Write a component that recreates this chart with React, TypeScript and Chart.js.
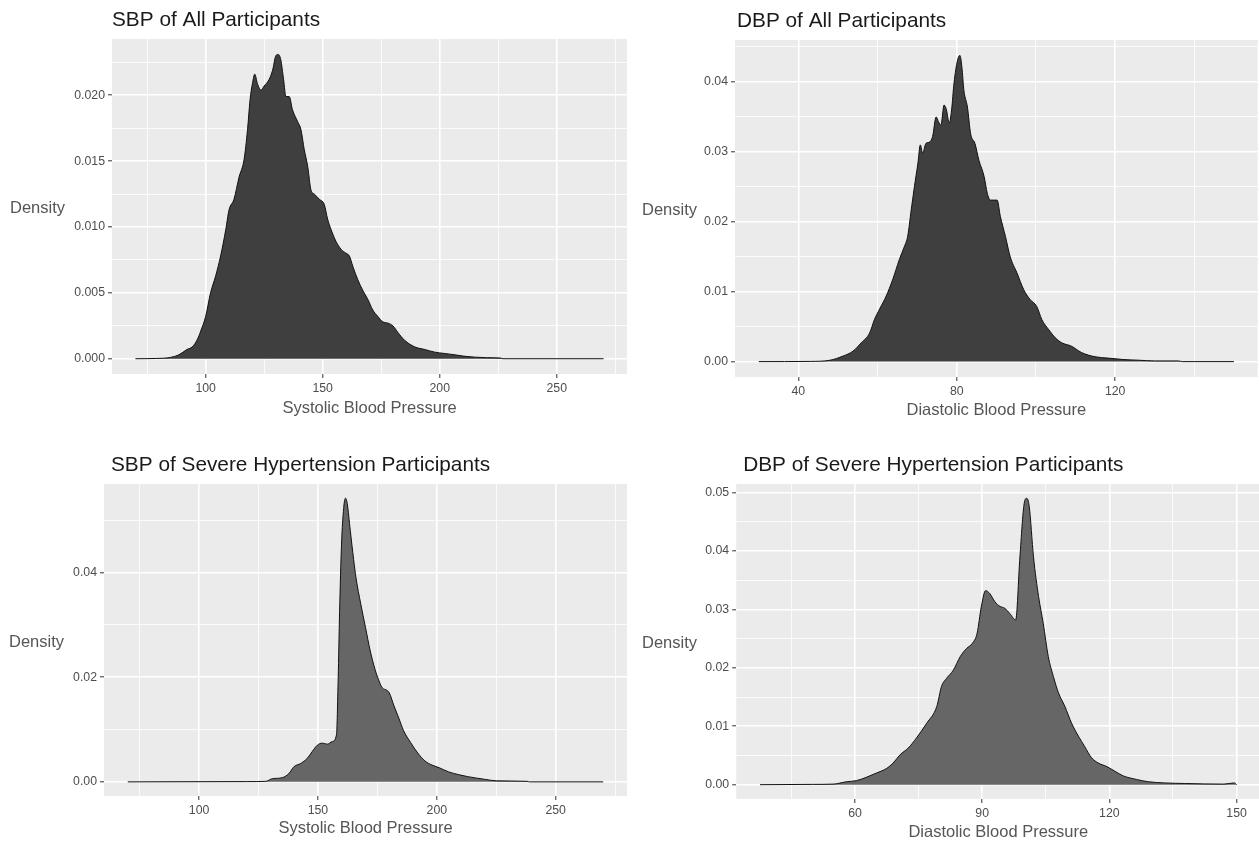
import React, { useEffect, useRef } from "react";
import { Chart, registerables } from "chart.js";

Chart.register(...registerables);

// ---------- Data ----------
// SBP of All Participants
const sbpAllX = [70, 79, 85, 88.6, 92, 94.3, 96.4, 97.9, 100, 102.1, 104.3, 106.4, 108.6, 110, 112.1, 114.3, 116.4, 117.9, 119, 120, 121, 122.1, 123.6, 125, 127.1, 128.6, 130, 131, 132.1, 133.3, 134.3, 135.7, 137.1, 139.3, 140.7, 142.1, 143.6, 145, 146.4, 148.6, 150.7, 152.1, 153.6, 155.7, 157.9, 160, 161.4, 162.9, 165, 167.1, 169.3, 171.4, 173.6, 175.7, 177.9, 180, 182.1, 185, 189.3, 193.6, 197.9, 202, 206.4, 210, 215, 220, 226, 227, 270];
const sbpAllY = [0, 0.00002, 0.0001, 0.0003, 0.0007, 0.0009, 0.00144, 0.0021, 0.0032, 0.005, 0.0063, 0.0078, 0.0098, 0.0113, 0.0121, 0.0138, 0.0151, 0.0174, 0.0197, 0.0209, 0.0216, 0.0209, 0.0204, 0.0207, 0.0212, 0.0219, 0.023, 0.0231, 0.0227, 0.0212, 0.0199, 0.0199, 0.0189, 0.018, 0.0174, 0.0159, 0.0146, 0.0128, 0.0125, 0.0121, 0.0117, 0.0106, 0.0098, 0.0089, 0.0083, 0.008, 0.0078, 0.007, 0.006, 0.0052, 0.0045, 0.0037, 0.0032, 0.0028, 0.0027, 0.0025, 0.002, 0.0014, 0.0009, 0.0007, 0.0005, 0.0004, 0.0003, 0.0002, 0.00012, 0.00008, 0.00005, 0, 0];

// DBP of All Participants
const dbpAllX = [30, 43, 48, 51.3, 53.8, 55.9, 58, 59.2, 60.5, 62.2, 63.8, 65.5, 66.8, 67.6, 68.5, 69.3, 70.2, 70.8, 71.4, 72.2, 73.1, 73.9, 74.8, 75.4, 76, 76.8, 77.4, 78.1, 78.7, 79.3, 80.2, 80.8, 81.3, 81.8, 82.7, 83.5, 84.6, 85.6, 86.9, 87.7, 88.5, 90.2, 91, 92.3, 93.5, 95.2, 96.9, 98.5, 100.2, 101.5, 103.2, 104.9, 106.5, 109, 111.5, 114.9, 118.2, 122, 126, 130, 136, 137, 150];
const dbpAllY = [0, 0.00003, 0.0002, 0.0008, 0.0015, 0.0027, 0.0041, 0.006, 0.0075, 0.0094, 0.0117, 0.0146, 0.0165, 0.0179, 0.0217, 0.025, 0.0284, 0.031, 0.0298, 0.0312, 0.0314, 0.0322, 0.035, 0.0343, 0.0338, 0.0367, 0.036, 0.0341, 0.036, 0.0398, 0.0431, 0.0438, 0.0421, 0.0388, 0.0364, 0.0326, 0.0312, 0.0288, 0.0265, 0.0241, 0.0231, 0.0231, 0.0208, 0.0179, 0.015, 0.0127, 0.0103, 0.0089, 0.0079, 0.006, 0.0046, 0.0034, 0.0027, 0.0022, 0.0013, 0.0007, 0.0005, 0.0003, 0.0002, 0.0001, 0.0001, 0, 0];

// SBP of Severe Hypertension Participants
const sbpSevX = [70, 120, 128, 130.8, 135, 137.8, 139.9, 142.7, 145.5, 147.6, 149.7, 151.8, 153.9, 156, 157.8, 158.5, 159.1, 159.9, 160.8, 161.6, 162.3, 163.6, 165, 166, 168, 170, 172, 174, 175.5, 177, 179, 180, 182, 184, 186, 189, 192, 195, 198, 201, 205, 209, 213, 220, 225, 238, 239, 270];
const sbpSevY = [0, 0.00005, 0.0001, 0.0006, 0.0008, 0.0016, 0.0029, 0.0035, 0.0045, 0.0058, 0.007, 0.0074, 0.0072, 0.0077, 0.009, 0.0196, 0.0324, 0.0452, 0.0522, 0.0542, 0.0532, 0.048, 0.0425, 0.039, 0.034, 0.0295, 0.025, 0.0215, 0.0195, 0.018, 0.0175, 0.017, 0.0145, 0.0122, 0.0098, 0.0075, 0.0055, 0.004, 0.0032, 0.0027, 0.0019, 0.0014, 0.001, 0.0005, 0.0002, 0.0001, 0, 0];

// DBP of Severe Hypertension Participants
const dbpSevX = [37.6, 50, 54.9, 58, 60.4, 62.8, 65.1, 67.5, 69, 70.6, 72.6, 74.5, 76.9, 79.3, 80.4, 81.6, 83.2, 84.8, 86.3, 87.7, 88.8, 89.8, 90.8, 91.8, 93, 94.2, 95.3, 96.5, 97.9, 98.9, 99.9, 100.5, 101.1, 102.1, 103.3, 104.4, 105.6, 106.8, 108, 109.5, 111.1, 112.7, 114.2, 115.8, 117.4, 119.4, 121.3, 123.3, 126.4, 129.2, 133, 138, 147, 149.5, 150];
const dbpSevY = [0, 0.00005, 0.0001, 0.0005, 0.0007, 0.0013, 0.002, 0.0028, 0.0037, 0.0051, 0.0063, 0.008, 0.0105, 0.0134, 0.0168, 0.0182, 0.0196, 0.0219, 0.0233, 0.0242, 0.0259, 0.0305, 0.0332, 0.0327, 0.0313, 0.0305, 0.0302, 0.0293, 0.0282, 0.039, 0.0481, 0.049, 0.0476, 0.039, 0.0322, 0.0276, 0.0219, 0.0185, 0.0157, 0.0134, 0.0105, 0.0083, 0.0065, 0.0046, 0.0037, 0.0031, 0.0023, 0.0015, 0.0009, 0.0005, 0.0003, 0.0002, 0.0001, 0.0003, 0];

// Tick values
const sbpXMajor = [100, 150, 200, 250];
const sbpXMinor = [75, 125, 175, 225, 275];
const dbpAllXMajor = [40, 80, 120];
const dbpAllXMinor = [60, 100, 140];
const dbpSevXMajor = [60, 90, 120, 150];
const dbpSevXMinor = [45, 75, 105, 135];
const sbpAllYMajor = [0, 0.005, 0.01, 0.015, 0.02];
const sbpAllYMinor = [0.0025, 0.0075, 0.0125, 0.0175, 0.0225];
const dbpAllYMajor = [0, 0.01, 0.02, 0.03, 0.04];
const dbpAllYMinor = [0.005, 0.015, 0.025, 0.035, 0.045];
const sbpSevYMajor = [0, 0.02, 0.04];
const sbpSevYMinor = [0.01, 0.03, 0.05];
const dbpSevYMajor = [0, 0.01, 0.02, 0.03, 0.04, 0.05];
const dbpSevYMinor = [0.005, 0.015, 0.025, 0.035, 0.045];

const titles = [
  "SBP of All Participants",
  "DBP of All Participants",
  "SBP of Severe Hypertension Participants",
  "DBP of Severe Hypertension Participants",
];
const xTitles = ["Systolic Blood Pressure", "Diastolic Blood Pressure"];
const yTitle = "Density";

const FONT = '"Liberation Sans", Arial, Helvetica, sans-serif';

type PanelCfg = {
  key: string;
  left: number; top: number; w: number; h: number;
  pad: { top: number; right: number; bottom: number; left: number };
  yWidth: number; xHeight: number;
  xs: number[]; ys: number[];
  xMin: number; xMax: number; yMin: number; yMax: number;
  xMajor: number[]; xMinor: number[]; yMajor: number[]; yMinor: number[];
  yDigits: number;
  fill: string;
  title: string; titleDx: number;
  xTitle: string; xTitleDy: number;
  densityX: number;
};

const panels: PanelCfg[] = [
  {
    key: "p1", left: 0, top: 0, w: 630, h: 430,
    pad: { top: 39, right: 3, bottom: 6, left: 0 }, yWidth: 112, xHeight: 50,
    xs: sbpAllX, ys: sbpAllY, xMin: 60, xMax: 280, yMin: -0.00116, yMax: 0.02427,
    xMajor: sbpXMajor, xMinor: sbpXMinor, yMajor: sbpAllYMajor, yMinor: sbpAllYMinor, yDigits: 3,
    fill: "#3f3f3f", title: titles[0], titleDx: 0, xTitle: xTitles[0], xTitleDy: 34, densityX: 10,
  },
  {
    key: "p2", left: 630, top: 0, w: 629, h: 430,
    pad: { top: 40, right: 1.3, bottom: 6, left: 0 }, yWidth: 105, xHeight: 47,
    xs: dbpAllX, ys: dbpAllY, xMin: 24, xMax: 156, yMin: -0.0022, yMax: 0.046,
    xMajor: dbpAllXMajor, xMinor: dbpAllXMinor, yMajor: dbpAllYMajor, yMinor: dbpAllYMinor, yDigits: 2,
    fill: "#3f3f3f", title: titles[1], titleDx: 2, xTitle: xTitles[1], xTitleDy: 33, densityX: 12,
  },
  {
    key: "p3", left: 0, top: 430, w: 630, h: 417,
    pad: { top: 54, right: 3, bottom: 6, left: 0 }, yWidth: 104, xHeight: 45,
    xs: sbpSevX, ys: sbpSevY, xMin: 60, xMax: 280, yMin: -0.0027, yMax: 0.0569,
    xMajor: sbpXMajor, xMinor: sbpXMinor, yMajor: sbpSevYMajor, yMinor: sbpSevYMinor, yDigits: 2,
    fill: "#666666", title: titles[2], titleDx: 7, xTitle: xTitles[0], xTitleDy: 32, densityX: 9,
  },
  {
    key: "p4", left: 630, top: 430, w: 632, h: 417,
    pad: { top: 54, right: 1.6, bottom: 6, left: 0 }, yWidth: 106.2, xHeight: 42,
    xs: dbpSevX, ys: dbpSevY, xMin: 31.98, xMax: 155.62, yMin: -0.00245, yMax: 0.05145,
    xMajor: dbpSevXMajor, xMinor: dbpSevXMinor, yMajor: dbpSevYMajor, yMinor: dbpSevYMinor, yDigits: 2,
    fill: "#666666", title: titles[3], titleDx: 7, xTitle: xTitles[1], xTitleDy: 33, densityX: 12,
  },
];

const isIn = (arr: number[], v: number) => arr.some((a) => Math.abs(a - v) < 1e-9);

function Panel({ cfg }: { cfg: PanelCfg }) {
  const ref = useRef<HTMLCanvasElement>(null);
  useEffect(() => {
    const canvas = ref.current;
    if (!canvas) return;
    const ggPlugin = {
      id: "gg_" + cfg.key,
      beforeDraw(chart: any) {
        const { ctx, chartArea: a } = chart;
        ctx.save();
        ctx.fillStyle = "#EBEBEB";
        ctx.fillRect(a.left, a.top, a.right - a.left, a.bottom - a.top);
        ctx.restore();
      },
      afterDraw(chart: any) {
        const { ctx, chartArea: a } = chart;
        ctx.save();
        ctx.textBaseline = "middle";
        ctx.textAlign = "left";
        ctx.fillStyle = "#1a1a1a";
        ctx.font = `20.8px ${FONT}`;
        ctx.fillText(cfg.title, a.left + cfg.titleDx, a.top - 19);
        ctx.fillStyle = "#555555";
        ctx.font = `16.5px ${FONT}`;
        ctx.fillText(yTitle, cfg.densityX, (a.top + a.bottom) / 2 + 2);
        ctx.textAlign = "center";
        ctx.fillText(cfg.xTitle, (a.left + a.right) / 2, a.bottom + cfg.xTitleDy);
        ctx.restore();
      },
    };
    const xTicks = [...cfg.xMajor, ...cfg.xMinor].filter((v) => v >= cfg.xMin && v <= cfg.xMax).sort((a, b) => a - b);
    const yTicks = [...cfg.yMajor, ...cfg.yMinor].filter((v) => v >= cfg.yMin && v <= cfg.yMax).sort((a, b) => a - b);
    const tickFont = { family: FONT, size: 12.3 };
    const chart = new Chart(canvas, {
      type: "line",
      data: {
        datasets: [
          {
            data: cfg.xs.map((x, i) => ({ x, y: cfg.ys[i] })),
            borderColor: "#111111",
            borderWidth: 1,
            backgroundColor: cfg.fill,
            fill: "origin",
            pointRadius: 0,
            cubicInterpolationMode: "monotone",
          },
        ],
      },
      plugins: [ggPlugin],
      options: {
        animation: false,
        responsive: false,
        events: [],
        layout: { padding: cfg.pad },
        plugins: { legend: { display: false }, tooltip: { enabled: false }, title: { display: false } },
        scales: {
          x: {
            type: "linear",
            min: cfg.xMin,
            max: cfg.xMax,
            border: { display: false },
            grid: {
              color: "#ffffff",
              lineWidth: (c: any) => (isIn(cfg.xMajor, c.tick?.value) ? 1.6 : 0.8),
              tickColor: (c: any) => (isIn(cfg.xMajor, c.tick?.value) ? "#333333" : "rgba(0,0,0,0)"),
              tickLength: 4,
              tickWidth: 1,
            },
            ticks: {
              autoSkip: false,
              maxRotation: 0,
              padding: 3,
              color: "#4d4d4d",
              font: tickFont,
              callback: (v: any) => (isIn(cfg.xMajor, Number(v)) ? String(v) : ""),
            },
            afterBuildTicks: (s: any) => {
              s.ticks = xTicks.map((v) => ({ value: v }));
            },
            afterFit: (s: any) => {
              s.height = cfg.xHeight;
            },
          },
          y: {
            type: "linear",
            min: cfg.yMin,
            max: cfg.yMax,
            border: { display: false },
            grid: {
              color: "#ffffff",
              lineWidth: (c: any) => (isIn(cfg.yMajor, c.tick?.value) ? 1.6 : 0.8),
              tickColor: (c: any) => (isIn(cfg.yMajor, c.tick?.value) ? "#333333" : "rgba(0,0,0,0)"),
              tickLength: 4,
              tickWidth: 1,
            },
            ticks: {
              autoSkip: false,
              padding: 3,
              color: "#4d4d4d",
              font: tickFont,
              callback: (v: any) => (isIn(cfg.yMajor, Number(v)) ? Number(v).toFixed(cfg.yDigits) : ""),
            },
            afterBuildTicks: (s: any) => {
              s.ticks = yTicks.map((v) => ({ value: v }));
            },
            afterFit: (s: any) => {
              s.width = cfg.yWidth;
            },
          },
        },
      } as any,
    });
    return () => chart.destroy();
  }, [cfg]);
  return (
    <canvas
      ref={ref}
      width={cfg.w}
      height={cfg.h}
      style={{ position: "absolute", left: cfg.left, top: cfg.top, width: cfg.w, height: cfg.h }}
    />
  );
}

export default function App() {
  return (
    <div
      style={{
        position: "fixed",
        left: 0,
        top: 0,
        width: 1259,
        height: 847,
        overflow: "hidden",
        background: "#ffffff",
      }}
    >
      {panels.map((p) => (
        <Panel key={p.key} cfg={p} />
      ))}
    </div>
  );
}
